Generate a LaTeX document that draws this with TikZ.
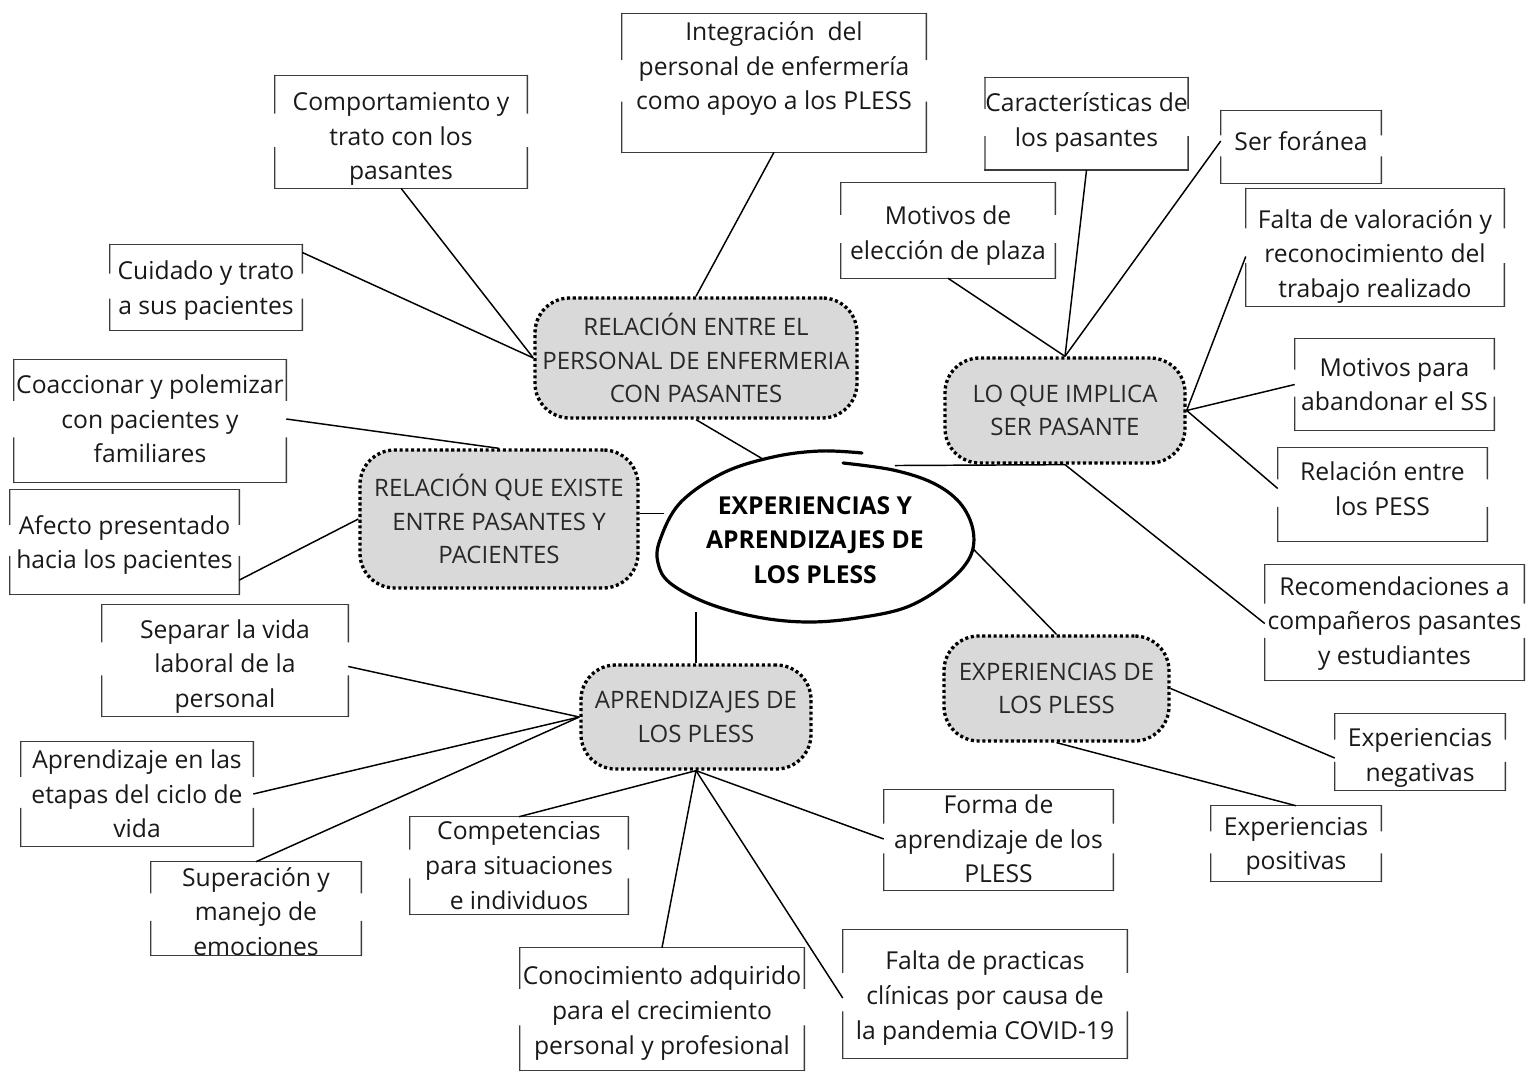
\documentclass[tikz,border=0pt]{standalone}
\usepackage{fontspec}
\setmainfont{Open Sans}
\usepackage{tikz}
\usetikzlibrary{calc,shapes.geometric}

\definecolor{boxgray}{RGB}{217,217,217}
\definecolor{inkgray}{RGB}{40,40,40}
\definecolor{framegray}{RGB}{60,60,60}

\tikzset{
  boxline/.style={draw=framegray, line width=1.1pt, line cap=rect},
  leaf/.style n args={3}{rectangle, inner sep=0pt, minimum width=#1, minimum height=#2,
    align=center, text=black!90, font=\fontsize{18.5}{26}\selectfont,
    append after command={\pgfextra{\let\lf\tikzlastnode}
      ([yshift=#3]\lf.north west) edge[boxline] ([yshift=#3]\lf.north east)
      ([yshift=#3]\lf.south west) edge[boxline] ([yshift=#3]\lf.south east)
      ([yshift=#3]\lf.north west) edge[boxline] ($([yshift=#3]\lf.north west)!0.33!([yshift=#3]\lf.south west)$)
      ($([yshift=#3]\lf.north west)!0.64!([yshift=#3]\lf.south west)$) edge[boxline] ([yshift=#3]\lf.south west)
      ([yshift=#3]\lf.north east) edge[boxline] ($([yshift=#3]\lf.north east)!0.33!([yshift=#3]\lf.south east)$)
      ($([yshift=#3]\lf.north east)!0.64!([yshift=#3]\lf.south east)$) edge[boxline] ([yshift=#3]\lf.south east)}},
  topic/.style 2 args={rectangle, rounded corners=26pt, fill=boxgray, draw=black,
    line width=2.5pt, dash pattern=on 2.3pt off 2pt, inner sep=0pt,
    minimum width=#1, minimum height=#2,
    align=center, text=inkgray, font=\fontsize{18}{25}\selectfont},
  link/.style={draw=black, line width=1.1pt}
}

\begin{document}
\begin{tikzpicture}[x=0.75pt,y=0.75pt,yscale=-1,xscale=1]
\useasboundingbox (0,0) rectangle (1528,1073);

% Hand drawn ellipse
\draw [line width=2.4pt, line cap=round] plot [smooth, tension=0.6] coordinates {(862,453) (820,451) (773,457) (723,473) (680,503) (660,540) (658,563) (670,583) (707,603) (757,617) (807,622) (857,618) (907,607) (947,583) (970,557) (973,530) (960,503) (933,483) (893,470) (843,463)};
% Text Node
\draw (815,540) node [ellipse, minimum width=237pt, minimum height=129pt, inner sep=0pt, align=center, font=\bfseries\fontsize{18.5}{26}\selectfont] (core) {EXPERIENCIAS Y\\APRENDIZAJES DE\\LOS PLESS};

% Text Node
\draw (696,358) node [topic={241.5pt}{90pt}] (relenf) {RELACIÓN ENTRE EL\\PERSONAL DE ENFERMERIA\\CON PASANTES};
% Text Node
\draw (499,519) node [topic={208.5pt}{103.5pt}] (relpac) {RELACIÓN QUE EXISTE\\ENTRE PASANTES Y\\PACIENTES};
% Text Node
\draw (1065,410.5) node [topic={180pt}{78.75pt}] (implica) {LO QUE IMPLICA\\SER PASANTE};
% Text Node
\draw (1056.5,688.5) node [topic={168.75pt}{78.75pt}] (expl) {EXPERIENCIAS DE\\LOS PLESS};
% Text Node
\draw (696,717) node [topic={172.5pt}{78pt}] (aprendpl) {APRENDIZAJES DE\\LOS PLESS};

% Text Node
\draw (774,83) node [leaf={228pt}{103.5pt}{0pt}] (integ) {Integración~ del\\personal de enfermería\\como apoyo a los PLESS\\\mbox{}};
% Text Node
\draw (401,139) node [leaf={189pt}{84pt}{-5.25pt}] (comport) {Comportamiento y\\trato con los\\pasantes};
% Text Node
\draw (206,290.5) node [leaf={144pt}{63.75pt}{-2.25pt}] (cuidado) {Cuidado y trato\\a sus pacientes};
% Text Node
\draw (150,419) node [leaf={204pt}{91.5pt}{1.5pt}] (coacc) {Coaccionar y polemizar\\con pacientes y\\familiares};
% Text Node
\draw (124.5,545) node [leaf={171.75pt}{78pt}{-2.25pt}] (afecto) {Afecto presentado\\hacia los pacientes};
% Text Node
\draw (225,666.5) node [leaf={184.5pt}{83.25pt}{-4.5pt}] (separar) {Separar la vida\\laboral de la\\personal};
% Text Node
\draw (137,794) node [leaf={174pt}{78pt}{0pt}] (aprend) {Aprendizaje en las\\etapas del ciclo de\\vida};
% Text Node
\draw (256,911.5) node [leaf={157.5pt}{69.75pt}{-2.25pt}] (superac) {Superación y\\manejo de\\emociones};
% Text Node
\draw (519,865.5) node [leaf={163.5pt}{72.75pt}{0pt}] (compet) {Competencias\\para situaciones\\e individuos};
% Text Node
\draw (662,1013) node [leaf={213pt}{91.5pt}{-3pt}] (conoc) {Conocimiento adquirido\\para el crecimiento\\personal y profesional};
% Text Node
\draw (985,998) node [leaf={213pt}{96pt}{-3pt}] (faltapr) {Falta de practicas\\clínicas por causa de\\la pandemia COVID-19};
% Text Node
\draw (998.5,839) node [leaf={171.75pt}{75pt}{0.75pt}] (forma) {Forma de\\aprendizaje de los\\PLESS};
% Text Node
\draw (1296,846.5) node [leaf={127.5pt}{56.25pt}{-2.25pt}] (positiv) {Experiencias\\positivas};
% Text Node
\draw (1420,758) node [leaf={127.5pt}{57pt}{-4.5pt}] (negativ) {Experiencias\\negativas};
% Text Node
\draw (1394.5,623.5) node [leaf={194.25pt}{86.25pt}{-0.75pt}] (recom) {Recomendaciones a\\compañeros pasantes\\y estudiantes};
% Text Node
\draw (1382.5,488.5) node [leaf={156.75pt}{69.75pt}{4.5pt}] (relpess) {Relación entre\\los PESS};
% Text Node
\draw (1394.5,384.5) node [leaf={149.25pt}{68.25pt}{0pt}] (abandon) {Motivos para\\abandonar el SS};
% Text Node
\draw (1375,256.5) node [leaf={193.5pt}{87.75pt}{-6.75pt}] (valora) {Falta de valoración y\\reconocimiento del\\trabajo realizado};
% Text Node
\draw (1301,141) node [leaf={120pt}{54pt}{4.5pt}] (foranea) {Ser foránea};
% Text Node
\draw (1086.5,122.5) node [leaf={150.75pt}{69pt}{1.1pt}] (caract) {Características de\\los pasantes};
% Text Node
\draw (948,235.5) node [leaf={160.5pt}{71.25pt}{-3.75pt}] (eleccion) {Motivos de\\elección de plaza};

%Straight Lines
\draw [link] (integ.south) -- (relenf.north) ;
\draw [link] ([yshift=-5.25pt]comport.south) -- (relenf.west) ;
\draw [link] ([yshift=-2.25pt]cuidado.20) -- (relenf.west) ;
\draw [link] (relenf.south) -- (core.123) ;
%Straight Lines
\draw [link] (coacc.east) -- (relpac.north) ;
\draw [link] (afecto.-17) -- (relpac.west) ;
\draw [link] (core.170) -- (core.170 -| relpac.east) ;
%Straight Lines
\draw [link] (separar.east) -- (aprendpl.west) ;
\draw [link] (aprend.east) -- (aprendpl.west) ;
\draw [link] ([yshift=-2.25pt]superac.north) -- (aprendpl.west) ;
\draw [link] (compet.north) -- (aprendpl.south) ;
\draw [link] ([yshift=-3pt]conoc.north) -- (aprendpl.south) ;
\draw [link] (faltapr.west) -- (aprendpl.south) ;
\draw [link] (forma.west) -- (aprendpl.south) ;
\draw [link] (aprendpl.north) -- (aprendpl.north |- core.220) ;
%Straight Lines
\draw [link] (core.-3) -- (expl.north) ;
\draw [link] (expl.east) -- (negativ.west) ;
\draw [link] (expl.south) -- ([yshift=-2.25pt]positiv.north) ;
%Straight Lines
\draw [link] (core.43) -- (implica.south) ;
\draw [link] (implica.south) -- (recom.west) ;
\draw [link] (implica.east) -- (relpess.west) ;
\draw [link] (implica.east) -- (abandon.west) ;
\draw [link] (implica.east) -- (valora.west) ;
\draw [link] (implica.north) -- ([yshift=-3.75pt]eleccion.south) ;
\draw [link] (implica.north) -- ([yshift=1.1pt]caract.south) ;
\draw [link] (implica.north) -- (foranea.west) ;

\end{tikzpicture}
\end{document}
